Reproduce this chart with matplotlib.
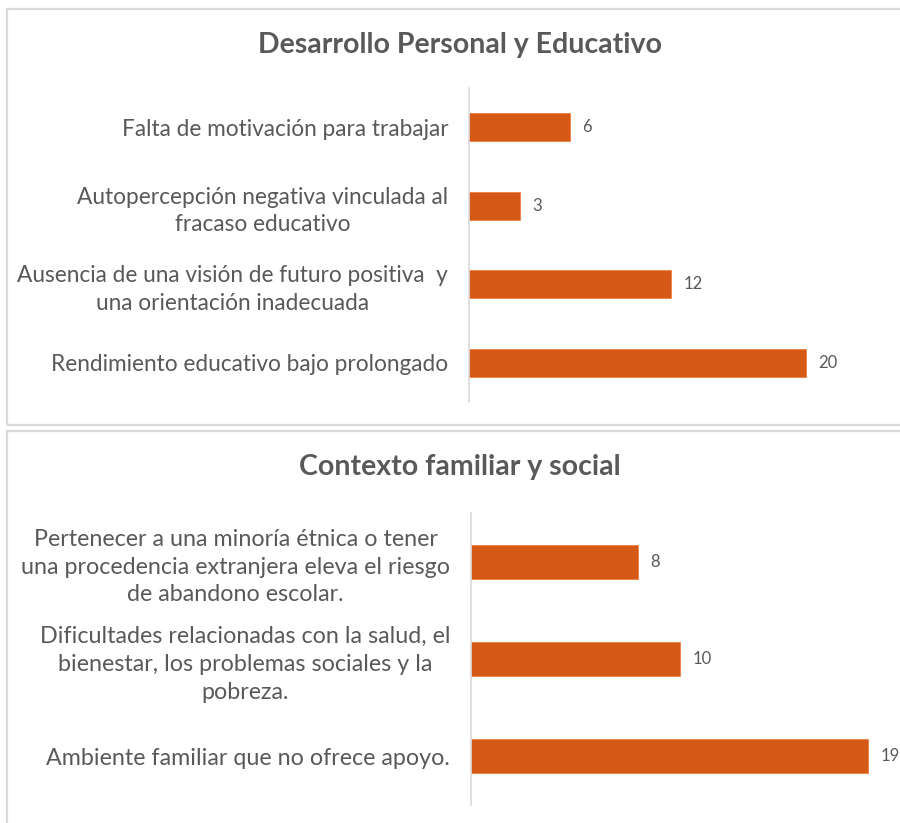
import numpy as np
import matplotlib
matplotlib.use('Agg')
import matplotlib.pyplot as plt
from matplotlib.patches import Rectangle

## Data
top_title = 'Desarrollo Personal y Educativo'
top_labels = ['Falta de motivación para trabajar',
              'Autopercepción negativa vinculada al\nfracaso educativo',
              'Ausencia de una visión de futuro positiva  y\nuna orientación inadecuada',
              'Rendimiento educativo bajo prolongado']
top_values = [6, 3, 12, 20]

bot_title = 'Contexto familiar y social'
bot_labels = ['Pertenecer a una minoría étnica o tener\nuna procedencia extranjera eleva el riesgo\nde abandono escolar.',
              'Dificultades relacionadas con la salud, el\nbienestar, los problemas sociales y la\npobreza.',
              'Ambiente familiar que no ofrece apoyo.']
bot_values = [8, 10, 19]

bar_color = '#D55817'
text_color = '#595959'
grid_color = '#D9D9D9'

plt.rcParams['font.family'] = ['Lato', 'DejaVu Sans']

W, H = 900, 823
fig = plt.figure(figsize=(9, 8.23), dpi=100)


def px_box(x0, y0, x1, y1):
    # pixel box (top-left origin) -> figure fraction [l, b, w, h]
    return [x0 / W, 1 - y1 / H, (x1 - x0) / W, (y1 - y0) / H]


def panel(box, labels, values, xmax, fs, bar_h, lsp):
    ax = fig.add_axes(box)
    y = np.arange(len(values))
    ax.barh(y, values, height=bar_h, color=bar_color, edgecolor='#F08040', linewidth=0.6)
    ax.set_ylim(len(values) - 0.5, -0.5)
    ax.set_xlim(0, xmax)
    ax.set_yticks(y)
    ax.set_yticklabels(labels, fontsize=fs, color=text_color, multialignment='center',
                       linespacing=lsp)
    ax.tick_params(axis='y', length=0, pad=15)
    ax.set_xticks([])
    for s in ['top', 'right', 'bottom']:
        ax.spines[s].set_visible(False)
    ax.spines['left'].set_color(grid_color)
    ax.spines['left'].set_linewidth(1.2)
    for yi, v in zip(y, values):
        ax.annotate(str(v), (v, yi), xytext=(9, 0), textcoords='offset points',
                    va='center', ha='left', fontsize=12, color=text_color)
    return ax


# panel frames
fig.add_artist(Rectangle((7 / W, 1 - 425 / H), 900 / W, (425 - 9) / H, transform=fig.transFigure,
                         fill=False, edgecolor=grid_color, linewidth=1.6))
fig.add_artist(Rectangle((7 / W, 1 - 830 / H), 900 / W, (830 - 431) / H, transform=fig.transFigure,
                         fill=False, edgecolor=grid_color, linewidth=1.6))

panel(px_box(469, 88, 890, 402), top_labels, top_values, 25, 16.3, 0.357, 1.38)
panel(px_box(471, 513, 889, 805), bot_labels, bot_values, 20, 16.75, 0.35, 1.4)

fig.text(460 / W, 1 - 45 / H, top_title, ha='center', va='center', fontsize=20.5,
         fontweight='bold', color=text_color)
fig.text(460 / W, 1 - 467 / H, bot_title, ha='center', va='center', fontsize=20.5,
         fontweight='bold', color=text_color)

fig.savefig('out.png', dpi=100)
